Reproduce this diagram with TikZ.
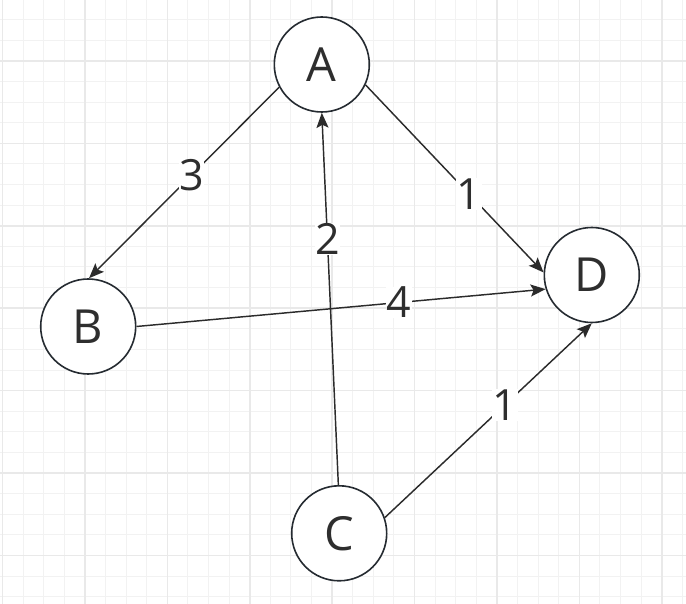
\documentclass[tikz,border=0pt]{standalone}
\usepackage{fontspec}
\setmainfont{Open Sans}
\usetikzlibrary{arrows.meta}
\definecolor{minorgrid}{HTML}{F2F2F2}
\definecolor{majorgrid}{HTML}{E9E9E9}
\definecolor{stroke}{HTML}{252B31}
\definecolor{edgecol}{HTML}{2B2B2B}
\definecolor{txt}{HTML}{2E2E2E}
\tikzset{
  vertex/.style={circle, draw=stroke, line width=1.6pt, fill=white, minimum size=95pt, inner sep=0pt, text=txt, font=\fontsize{47}{50}\selectfont},
  edge/.style={draw=edgecol, line width=1.45pt, -{Stealth[length=15pt, width=12pt, inset=3pt]}},
  wlabel/.style={fill=white, inner sep=0.5pt, text=txt, font=\fontsize{43}{46}\selectfont},
  minorline/.style={draw=minorgrid, line width=1pt},
  majorline/.style={draw=majorgrid, line width=1.6pt}
}
\begin{document}
\begin{tikzpicture}[x=1pt, y=-1pt]
\useasboundingbox (0,0) rectangle (686,604);
\fill[white] (0,0) rectangle (686,604);
% grid
\foreach \k in {0,...,33} { \draw[minorline] (2.5+20.6*\k,0) -- (2.5+20.6*\k,604); }
\foreach \k in {0,...,29} { \draw[minorline] (0,-0.8+20.6*\k) -- (686,-0.8+20.6*\k); }
\foreach \k in {0,...,8} { \draw[majorline] (2.5+82.4*\k,0) -- (2.5+82.4*\k,604); }
\foreach \k in {0,...,6} { \draw[majorline] (0,61+82.4*\k) -- (686,61+82.4*\k); }
% nodes
\node[vertex] (A) at (321.8,64.5) {A};
\node[vertex] (B) at (88.2,326.5) {B};
\node[vertex] (C) at (339.2,533.3) {C};
\node[vertex] (D) at (591.8,275) {D};
% edges
\draw[edge] (A.208) -- node[wlabel, pos=0.46] {3} (B.89);
\draw[edge] (C.91) -- node[wlabel, pos=0.66] {2} (A.south);
\draw[edge] (A.335.5) -- node[wlabel, pos=0.58] {1} (D.177);
\draw[edge] (B.east) -- node[wlabel, pos=0.642] {4} (D.197);
\draw[edge] (C.19) -- node[wlabel, pos=0.58] {1} (D.south);
\end{tikzpicture}
\end{document}
